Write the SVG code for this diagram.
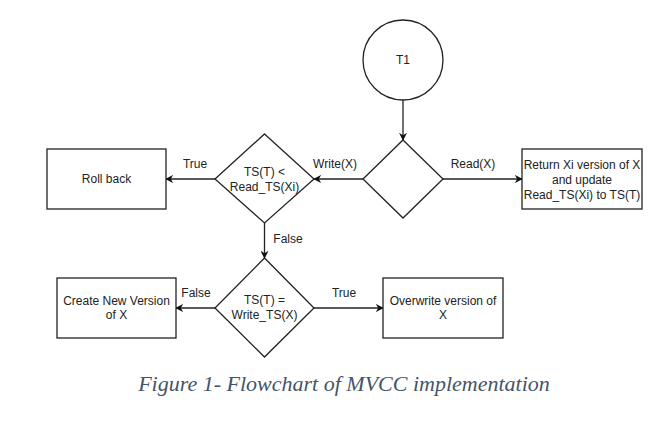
<svg xmlns="http://www.w3.org/2000/svg" width="670" height="426" viewBox="0 0 670 426">
<defs>
<marker id="arr" viewBox="0 0 10 10" refX="9" refY="5" markerWidth="8" markerHeight="8" markerUnits="userSpaceOnUse" orient="auto"><path d="M0,0 L10,5 L0,10 L3,5 Z" fill="#111"/></marker>
<style>
.shape{fill:#fff;stroke:#222;stroke-width:1.3}
.t{font-family:"Liberation Sans",Arial,sans-serif;font-size:12px;fill:#222;text-anchor:middle}
.edge{stroke:#222;stroke-width:1.3;fill:none;marker-end:url(#arr)}
.cap{font-family:"Liberation Serif","Times New Roman",serif;font-style:italic;font-size:22px;fill:#44546A;text-anchor:middle}
</style>
</defs>
<rect width="670" height="426" fill="#fff"/>
<g id="connectors">
<line class="edge" x1="403" y1="100" x2="403" y2="140"/>
<line class="edge" x1="443" y1="179" x2="522" y2="179"/>
<line class="edge" x1="363" y1="179" x2="314" y2="179"/>
<line class="edge" x1="215" y1="179" x2="166" y2="179"/>
<line class="edge" x1="264.5" y1="223" x2="264.5" y2="258"/>
<line class="edge" x1="215" y1="308" x2="176" y2="308"/>
<line class="edge" x1="314" y1="308" x2="383" y2="308"/>
<text class="t" x="473" y="168">Read(X)</text>
<text class="t" x="335" y="168">Write(X)</text>
<text class="t" x="195" y="168">True</text>
<text class="t" x="288" y="243">False</text>
<text class="t" x="196" y="297">False</text>
<text class="t" x="344" y="297">True</text>
</g>
<g id="t1">
<circle class="shape" cx="403" cy="60" r="40"/>
<text class="t" x="403" y="64">T1</text>
</g>
<g id="decision1">
<polygon class="shape" points="403,140 443,179 403,218 363,179"/>
</g>
<g id="return-xi">
<rect class="shape" x="522" y="149" width="120" height="60"/>
<text class="t" x="582" y="169">Return Xi version of X</text>
<text class="t" x="582" y="184">and update</text>
<text class="t" x="582" y="199">Read_TS(Xi) to TS(T)</text>
</g>
<g id="decision2">
<polygon class="shape" points="264.5,134 314,179 264.5,223 215,179"/>
<text class="t" x="264.5" y="176">TS(T) &lt;</text>
<text class="t" x="264.5" y="191">Read_TS(Xi)</text>
</g>
<g id="rollback">
<rect class="shape" x="47" y="149" width="119" height="60"/>
<text class="t" x="106.5" y="183">Roll back</text>
</g>
<g id="decision3">
<polygon class="shape" points="264.5,258 314,308 264.5,357 215,308"/>
<text class="t" x="264.5" y="304">TS(T) =</text>
<text class="t" x="264.5" y="319">Write_TS(X)</text>
</g>
<g id="create-new">
<rect class="shape" x="57" y="278" width="119" height="60"/>
<text class="t" x="116.5" y="305">Create New Version</text>
<text class="t" x="116.5" y="319">of X</text>
</g>
<g id="overwrite">
<rect class="shape" x="383" y="278" width="120" height="60"/>
<text class="t" x="443" y="305">Overwrite version of</text>
<text class="t" x="443" y="319">X</text>
</g>
<text class="cap" x="344" y="391">Figure 1- Flowchart of MVCC implementation</text>
</svg>
